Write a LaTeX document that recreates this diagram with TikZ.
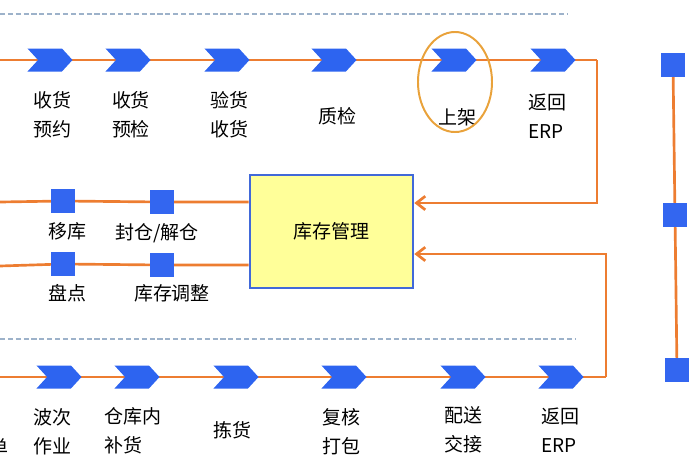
\documentclass[tikz,border=0pt]{standalone}
\usepackage{fontspec}
\newfontfamily\cjk{Noto Sans CJK SC}
\usepackage{xcolor}
\usetikzlibrary{arrows.meta,positioning,shapes.symbols,shapes.geometric,backgrounds}
\definecolor{flow}{HTML}{ED7D31}
\definecolor{chev}{HTML}{2D64F0}
\definecolor{sqr}{HTML}{3366F0}
\definecolor{dashc}{HTML}{9DB2CA}
\definecolor{boxfill}{HTML}{FFFF99}
\definecolor{boxline}{HTML}{4169D9}
\definecolor{ring}{HTML}{E9A23B}
\begin{document}
\begin{tikzpicture}[
    x=0.025cm, y=-0.025cm,
    >={Straight Barb[length=2.2mm,width=3.4mm]},
    chevron/.style={signal, signal from=west, signal to=east, fill=chev, draw=none, minimum width=1.125cm, minimum height=0.575cm, inner sep=0pt, signal pointer angle=95},
    marker/.style={fill=sqr, minimum size=0.58cm, inner sep=0pt},
    lbl/.style={font=\cjk\fontsize{13.5}{20.5}\selectfont, align=center, inner sep=0pt},
    lblL/.style={lbl, align=left, anchor=west},
    link/.style={draw=flow, line width=1.9pt},
    sep/.style={draw=dashc, line width=2pt, dash pattern=on 3.6pt off 2pt}
]
\useasboundingbox (0,0) rectangle (700,470);
\clip (0,0) rectangle (700,470);

\draw[sep] (0,14) -- (568,14);
\draw[sep] (0,339) -- (575,339);

% inbound row
\node[chevron] (in1) at (50,60) {};
\node[chevron] (in2) at (128,60) {};
\node[chevron] (in3) at (227,60) {};
\node[chevron] (in4) at (334,60) {};
\node[chevron] (in5) at (454,60) {};
\node[chevron] (in6) at (553,60) {};
\node[lbl] (t1) at (52,115) {收货\\预约};
\node[lbl] (t2) at (131,115) {收货\\预检};
\node[lbl] (t3) at (229,115) {验货\\收货};
\node[lbl] (t4) at (337,116) {质检};
\node[lbl] (t5) at (457,117) {上架};
\node[lblL] (t6) at (528,116) {返回\\ERP};
\node[draw=ring, line width=1.4pt, ellipse, minimum width=1.85cm, minimum height=2.5cm] (focus) at (455,82) {};

% inventory
\node[draw=boxline, fill=boxfill, line width=1.8pt, minimum width=4.075cm, minimum height=2.825cm, lbl] (box) at (331.5,231.5) {库存管理};
\node[marker] (mv) at (63,201) {};
\node[marker] (seal) at (162,202) {};
\node[marker] (count) at (63,264) {};
\node[marker] (adj) at (162,265) {};
\node[lbl] (m1) at (67,231) {移库};
\node[lbl] (m2) at (157,233) {封仓/解仓};
\node[lbl] (m3) at (67,293) {盘点};
\node[lbl] (m4) at (172,293) {库存调整};

% outbound row
\node[chevron] (out1) at (59,377) {};
\node[chevron] (out2) at (137,377) {};
\node[chevron] (out3) at (236,377) {};
\node[chevron] (out4) at (344,377) {};
\node[chevron] (out5) at (463,377) {};
\node[chevron] (out6) at (561,377) {};
\node[lbl] (b0) at (-1,447) {单};
\node[lbl] (b1) at (52,432) {波次\\作业};
\node[lblL] (b2) at (104,431) {仓库内\\补货};
\node[lbl] (b3) at (232,430) {拣货};
\node[lbl] (b4) at (341,432) {复核\\打包};
\node[lbl] (b5) at (463,430) {配送\\交接};
\node[lblL] (b6) at (541,430) {返回\\ERP};

% right column
\node[marker] (r1) at (673,65) {};
\node[marker] (r2) at (675,215) {};
\node[marker] (r3) at (677,370) {};

\coordinate (topL) at (0,60);
\coordinate (topR) at (597,60);
\coordinate (retA) at (597,203);
\coordinate (midA) at (0,202);
\coordinate (midB) at (0,266);
\coordinate (botL) at (0,377);
\coordinate (botR) at (606,377);
\coordinate (retB) at (606,254);

\begin{scope}[on background layer]
\draw[link] (topL) -- (in1.center) -- (in2.center) -- (in3.center) -- (in4.center) -- (in5.center) -- (in6.center) -- (topR);
\draw[link,->] (topR) -- (retA) -- (retA -| box.east);
\draw[link] (midA) -- (mv.center) -- (seal.center) -- (seal.center -| box.west);
\draw[link] (midB) -- (count.center) -- (adj.center) -- (adj.center -| box.west);
\draw[link] (botL) -- (out1.center) -- (out2.center) -- (out3.center) -- (out4.center) -- (out5.center) -- (out6.center) -- (botR);
\draw[link,->] (botR) -- (retB) -- (retB -| box.east);
\draw[link] (r1.center) -- (r2.center) -- (r3.center);
\end{scope}
\end{tikzpicture}
\end{document}
